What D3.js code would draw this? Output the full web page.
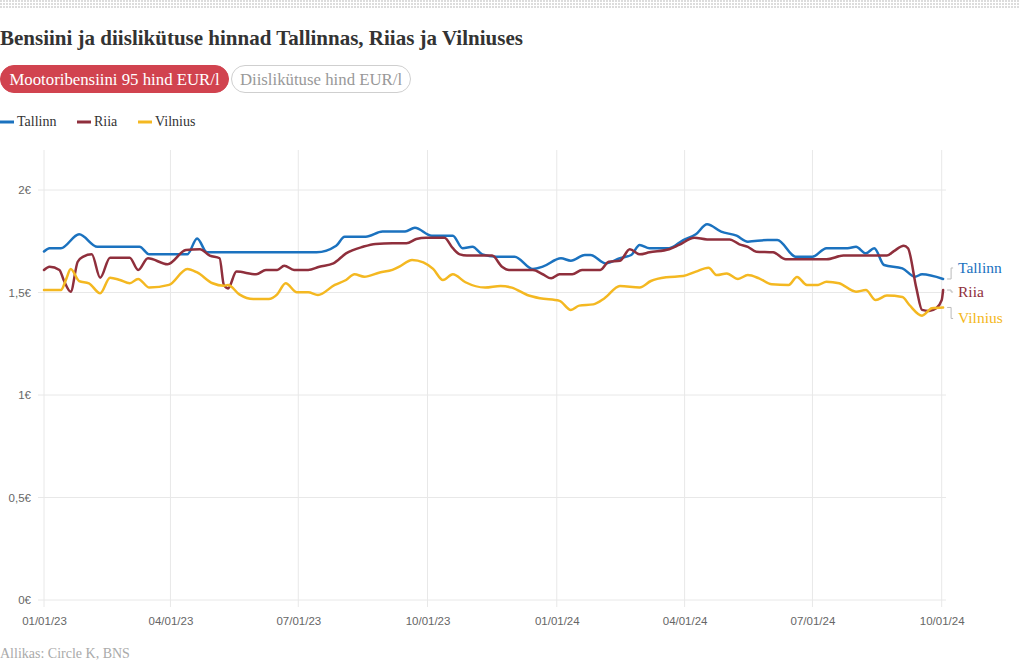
<!DOCTYPE html>
<html>
<head>
<meta charset="utf-8">
<script src="https://cdn.jsdelivr.net/npm/d3@7/dist/d3.min.js"></script>
<style>
  html, body { margin: 0; padding: 0; background: #fff; }
  svg { display: block; }
</style>
</head>
<body>
<svg id="chart" width="1020" height="662"></svg>
<script>
// ---------------- DATA ----------------
const title = "Bensiini ja diislikütuse hinnad Tallinnas, Riias ja Vilniuses";
const tabs = ["Mootoribensiini 95 hind EUR/l", "Diislikütuse hind EUR/l"];
const source = "Allikas: Circle K, BNS";
const seriesNames = ["Tallinn", "Riia", "Vilnius"];
const seriesColors = ["#1b72bf", "#8f2f3c", "#f4b821"];

const tallinn = [
  ["2023-01-01",1.700],["2023-01-05",1.716],["2023-01-13",1.716],["2023-01-26",1.784],
  ["2023-02-08",1.723],["2023-03-10",1.723],["2023-03-17",1.686],["2023-04-13",1.686],
  ["2023-04-20",1.764],["2023-04-27",1.696],["2023-07-14",1.696],["2023-07-28",1.728],
  ["2023-08-03",1.772],["2023-08-18",1.772],["2023-08-30",1.797],["2023-09-15",1.797],
  ["2023-09-22",1.816],["2023-10-04",1.777],["2023-10-19",1.777],["2023-10-26",1.716],
  ["2023-11-02",1.723],["2023-11-09",1.686],["2023-11-19",1.675],["2023-12-02",1.675],
  ["2023-12-15",1.615],["2023-12-22",1.626],["2024-01-04",1.667],["2024-01-11",1.655],
  ["2024-01-21",1.683],["2024-01-25",1.683],["2024-02-05",1.642],["2024-02-15",1.667],
  ["2024-02-23",1.683],["2024-02-29",1.732],["2024-03-07",1.716],["2024-03-21",1.716],
  ["2024-03-31",1.756],["2024-04-09",1.784],["2024-04-17",1.833],["2024-04-27",1.797],
  ["2024-05-08",1.777],["2024-05-16",1.748],["2024-05-30",1.756],["2024-06-06",1.756],
  ["2024-06-19",1.675],["2024-07-01",1.675],["2024-07-11",1.716],["2024-07-26",1.716],
  ["2024-08-01",1.723],["2024-08-08",1.691],["2024-08-14",1.716],["2024-08-21",1.634],
  ["2024-09-03",1.618],["2024-09-12",1.577],["2024-09-17",1.589],["2024-10-02",1.566]
];

const riia = [
  ["2023-01-01",1.610],["2023-01-05",1.626],["2023-01-12",1.610],["2023-01-15",1.561],
  ["2023-01-20",1.504],["2023-01-25",1.650],["2023-01-29",1.675],["2023-02-04",1.686],
  ["2023-02-10",1.572],["2023-02-17",1.670],["2023-03-03",1.670],["2023-03-09",1.610],
  ["2023-03-16",1.667],["2023-03-30",1.638],["2023-04-12",1.707],["2023-04-22",1.711],
  ["2023-04-29",1.680],["2023-05-06",1.667],["2023-05-09",1.537],["2023-05-12",1.520],
  ["2023-05-18",1.602],["2023-06-01",1.589],["2023-06-08",1.610],["2023-06-16",1.610],
  ["2023-06-21",1.631],["2023-06-28",1.610],["2023-07-08",1.610],["2023-07-16",1.626],
  ["2023-07-26",1.642],["2023-08-04",1.691],["2023-08-16",1.723],["2023-08-25",1.737],
  ["2023-09-06",1.740],["2023-09-16",1.740],["2023-09-23",1.761],["2023-09-30",1.767],
  ["2023-10-13",1.767],["2023-10-19",1.716],["2023-10-24",1.686],["2023-10-29",1.680],
  ["2023-11-16",1.680],["2023-11-23",1.626],["2023-11-28",1.610],["2023-12-15",1.610],
  ["2023-12-22",1.589],["2023-12-28",1.569],["2024-01-03",1.589],["2024-01-12",1.589],
  ["2024-01-19",1.610],["2024-02-01",1.610],["2024-02-07",1.650],["2024-02-15",1.655],
  ["2024-02-22",1.711],["2024-02-29",1.686],["2024-03-07",1.696],["2024-03-21",1.711],
  ["2024-03-28",1.732],["2024-04-08",1.767],["2024-04-17",1.759],["2024-05-03",1.759],
  ["2024-05-10",1.735],["2024-05-16",1.723],["2024-05-22",1.699],["2024-06-03",1.696],
  ["2024-06-12",1.662],["2024-07-11",1.662],["2024-07-23",1.680],["2024-08-23",1.680],
  ["2024-08-28",1.702],["2024-09-04",1.728],["2024-09-07",1.716],["2024-09-13",1.520],
  ["2024-09-17",1.415],["2024-09-22",1.410],["2024-09-27",1.423],["2024-10-01",1.463],
  ["2024-10-02",1.512]
];

const vilnius = [
  ["2023-01-01",1.512],["2023-01-13",1.512],["2023-01-17",1.569],["2023-01-20",1.615],
  ["2023-01-26",1.556],["2023-02-02",1.545],["2023-02-10",1.496],["2023-02-17",1.572],
  ["2023-02-24",1.561],["2023-03-03",1.545],["2023-03-09",1.566],["2023-03-17",1.524],
  ["2023-03-31",1.537],["2023-04-13",1.615],["2023-04-20",1.598],["2023-05-01",1.545],
  ["2023-05-09",1.533],["2023-05-12",1.537],["2023-05-20",1.491],["2023-05-30",1.468],
  ["2023-06-10",1.468],["2023-06-16",1.491],["2023-06-22",1.545],["2023-06-30",1.501],
  ["2023-07-08",1.501],["2023-07-15",1.488],["2023-07-27",1.537],["2023-08-04",1.561],
  ["2023-08-10",1.589],["2023-08-17",1.577],["2023-08-28",1.598],["2023-09-06",1.610],
  ["2023-09-11",1.626],["2023-09-20",1.659],["2023-09-28",1.647],["2023-10-05",1.615],
  ["2023-10-12",1.561],["2023-10-19",1.589],["2023-10-28",1.550],["2023-11-11",1.524],
  ["2023-11-22",1.532],["2023-11-30",1.524],["2023-12-11",1.488],["2023-12-20",1.472],
  ["2024-01-03",1.459],["2024-01-11",1.415],["2024-01-17",1.436],["2024-01-27",1.442],
  ["2024-02-04",1.472],["2024-02-15",1.532],["2024-02-29",1.525],["2024-03-08",1.556],
  ["2024-03-19",1.574],["2024-03-31",1.580],["2024-04-09",1.602],["2024-04-18",1.621],
  ["2024-04-24",1.585],["2024-05-01",1.593],["2024-05-09",1.566],["2024-05-16",1.585],
  ["2024-05-24",1.569],["2024-06-02",1.540],["2024-06-14",1.537],["2024-06-20",1.576],
  ["2024-06-27",1.537],["2024-07-05",1.537],["2024-07-11",1.553],["2024-07-20",1.545],
  ["2024-08-01",1.504],["2024-08-08",1.512],["2024-08-15",1.463],["2024-08-23",1.485],
  ["2024-09-03",1.478],["2024-09-08",1.439],["2024-09-17",1.387],["2024-09-24",1.423],
  ["2024-10-02",1.427]
];

const yTicks = [0, 0.5, 1, 1.5, 2];
const xTicks = ["2023-01-01","2023-04-01","2023-07-01","2023-10-01","2024-01-01","2024-04-01","2024-07-01","2024-10-01"];
const xDomain = ["2023-01-01","2024-10-01"];
const labelOffsets = [-11, 2, 11]; // label placement relative to line end (px)

// ---------------- DRAW ----------------
const parse = d3.timeParse("%Y-%m-%d");
const svg = d3.select("#chart");
const serif = "'Liberation Serif', 'Times New Roman', serif";
const sans = "'Liberation Sans', Arial, sans-serif";

// dotted top band
const defs = svg.append("defs");
const pat = defs.append("pattern").attr("id","dots").attr("width",3).attr("height",3)
  .attr("patternUnits","userSpaceOnUse");
pat.append("rect").attr("width",2).attr("height",2).attr("fill","#dcdcdc");
svg.append("rect").attr("x",0).attr("y",0).attr("width",1020).attr("height",9).attr("fill","url(#dots)");

svg.append("text").attr("x",0).attr("y",45).text(title)
  .attr("font-family",serif).attr("font-weight","bold").attr("font-size",21).attr("fill","#333");

// tabs
const tabG = svg.append("g");
const tabDefs = [
  {x:0, w:229, fill:"#d1434f", stroke:"#d1434f", color:"#fff"},
  {x:231, w:180, fill:"#fff", stroke:"#cfcfcf", color:"#999"}
];
tabs.forEach((t,i)=>{
  const d = tabDefs[i];
  tabG.append("rect").attr("x",d.x+0.5).attr("y",65.5).attr("width",d.w-1).attr("height",27)
    .attr("rx",13.5).attr("fill",d.fill).attr("stroke",d.stroke);
  tabG.append("text").attr("x",d.x + d.w/2).attr("y",84.5).attr("text-anchor","middle")
    .attr("font-family",serif).attr("font-size",16.8).attr("fill",d.color).text(t);
});

// legend
const legX = [0, 77, 138];
seriesNames.forEach((n,i)=>{
  svg.append("line").attr("x1",legX[i]).attr("x2",legX[i]+14).attr("y1",122).attr("y2",122)
    .attr("stroke",seriesColors[i]).attr("stroke-width",3);
  svg.append("text").attr("x",legX[i]+17).attr("y",126).text(n)
    .attr("font-family",serif).attr("font-size",14).attr("fill","#333");
});

// scales
const x = d3.scaleTime().domain(xDomain.map(parse)).range([44, 941.7]);
const y = d3.scaleLinear().domain([0, 2]).range([600, 190]);

// gridlines
const grid = svg.append("g");
grid.selectAll(".vg").data(xTicks.map(parse)).join("line")
  .attr("x1",d=>x(d)).attr("x2",d=>x(d)).attr("y1",150).attr("y2",607)
  .attr("stroke","#e8e8e8").attr("stroke-width",1);
grid.selectAll(".hg").data(yTicks).join("line")
  .attr("x1",38).attr("x2",946).attr("y1",d=>y(d)).attr("y2",d=>y(d))
  .attr("stroke","#e8e8e8").attr("stroke-width",1);

// axes
const fmtY = d => (d3.format("~g")(d)).replace(".", ",") + "€";
const yAxis = d3.axisLeft(y).tickValues(yTicks).tickSize(0).tickPadding(7).tickFormat(fmtY);
const yG = svg.append("g").attr("transform","translate(38,0)").call(yAxis);
yG.select(".domain").remove();
yG.selectAll("text").attr("font-family",sans).attr("font-size",11.5).attr("fill","#666");

const xAxis = d3.axisBottom(x).tickValues(xTicks.map(parse)).tickSize(0).tickPadding(0)
  .tickFormat(d3.timeFormat("%m/%d/%y"));
const xG = svg.append("g").attr("transform","translate(0,617)").call(xAxis);
xG.select(".domain").remove();
xG.selectAll("text").attr("font-family",sans).attr("font-size",11.5).attr("fill","#666");

// lines
const allSeries = [tallinn, riia, vilnius].map(s => s.map(([d,v]) => ({date: parse(d), value: v})));
const line = d3.line().x(d=>x(d.date)).y(d=>y(d.value)).curve(d3.curveMonotoneX);
allSeries.forEach((s,i)=>{
  svg.append("path").datum(s).attr("d",line).attr("fill","none")
    .attr("stroke",seriesColors[i]).attr("stroke-width",2.5)
    .attr("stroke-linejoin","round").attr("stroke-linecap","round");
});

// end labels with connectors
allSeries.forEach((s,i)=>{
  const last = s[s.length-1];
  const ex = x(last.date), ey = y(last.value);
  const ly = ey + labelOffsets[i];
  svg.append("path")
    .attr("d", `M${ex+4},${ey} L${ex+8},${ey} L${ex+8},${ly} L${ex+10},${ly}`)
    .attr("fill","none").attr("stroke","#bbb").attr("stroke-width",1);
  svg.append("text").attr("x",958).attr("y",ly+5).text(seriesNames[i])
    .attr("font-family",serif).attr("font-size",15.5).attr("fill",seriesColors[i]);
});

svg.append("text").attr("x",0).attr("y",658).text(source)
  .attr("font-family",serif).attr("font-size",14).attr("fill","#aaa");
</script>
</body>
</html>
